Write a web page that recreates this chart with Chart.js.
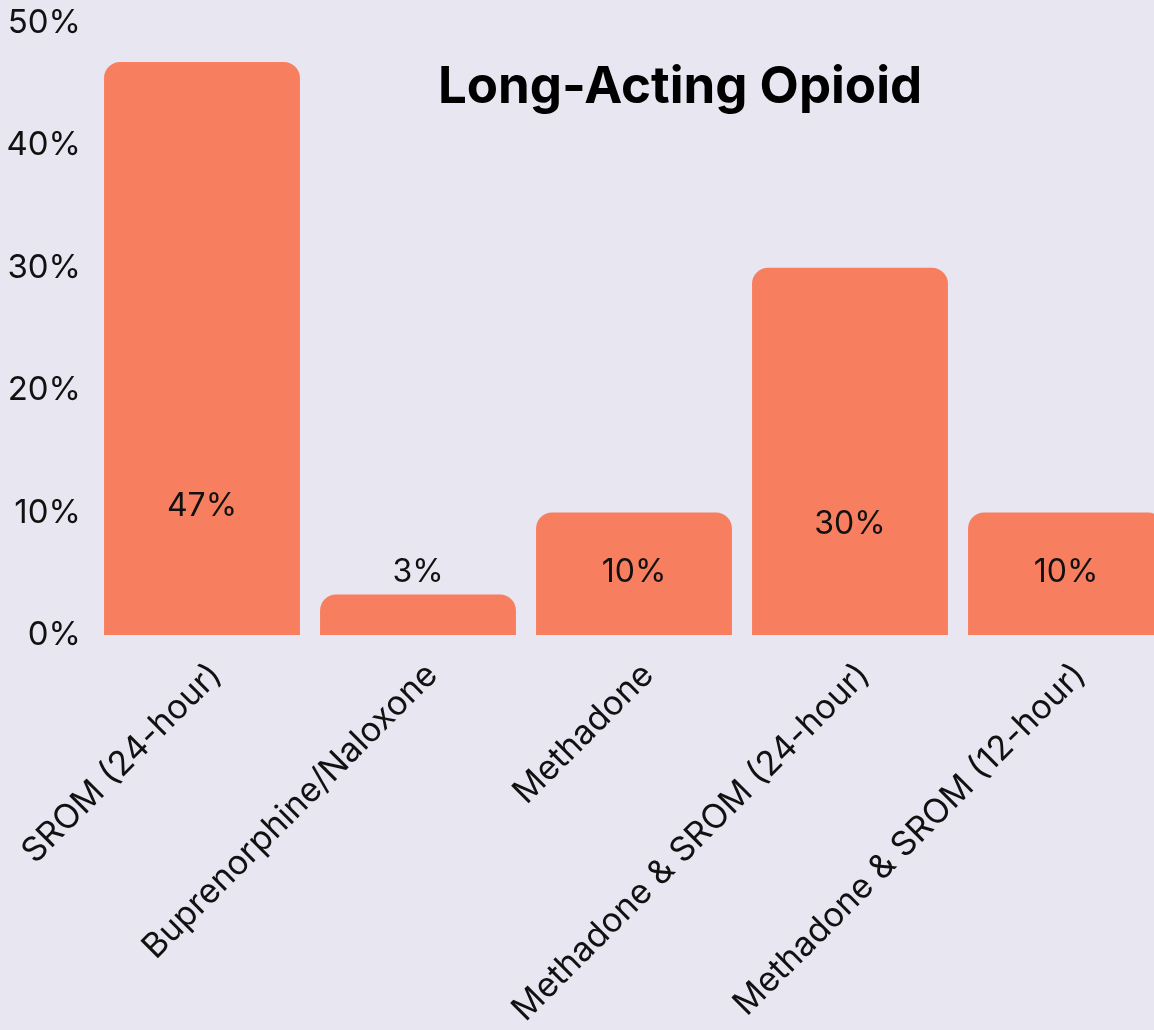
<!DOCTYPE html>
<html>
<head>
<meta charset="utf-8">
<script src="https://cdn.jsdelivr.net/npm/chart.js@4.4.1/dist/chart.umd.min.js"></script>
<style>
  html, body { margin: 0; padding: 0; background: #e8e6f1; overflow: hidden; }
  #wrap { width: 1154px; height: 1030px; overflow: hidden; }
</style>
</head>
<body>
<div id="wrap"><canvas id="chart" width="1174" height="1030"></canvas></div>
<script>
const categories = [
    'SROM (24-hour)',
    'Buprenorphine/Naloxone',
    'Methadone',
    'Methadone & SROM (24-hour)',
    'Methadone & SROM (12-hour)'
];
const shares = [46.8, 3.3, 10, 30, 10];
const shareLabels = ['47%', '3%', '10%', '30%', '10%'];
const chartTitle = 'Long-Acting Opioid';

const FONT = 'Inter, "Noto Sans", sans-serif';

// value labels sit at a fixed height inside (or just above) each bar
const valueLabels = {
    id: 'valueLabels',
    afterDatasetsDraw(chart, args, opts) {
        const ctx = chart.ctx;
        const yScale = chart.scales.y;
        const meta = chart.getDatasetMeta(0);
        ctx.save();
        ctx.font = '32px ' + FONT;
        ctx.fillStyle = '#111';
        ctx.textAlign = 'center';
        ctx.textBaseline = 'middle';
        meta.data.forEach(function (bar, i) {
            ctx.fillText(shareLabels[i], bar.x, yScale.getPixelForValue(opts.at[i]));
        });
        ctx.restore();
    }
};

const titleText = {
    id: 'titleText',
    afterDraw(chart) {
        const ctx = chart.ctx;
        ctx.save();
        ctx.font = 'bold 51px ' + FONT;
        ctx.fillStyle = '#000';
        ctx.textAlign = 'center';
        ctx.textBaseline = 'middle';
        ctx.fillText(chartTitle, 680, 88);
        ctx.restore();
    }
};

const ctx = document.getElementById('chart').getContext('2d');
new Chart(ctx, {
    type: 'bar',
    data: {
        labels: categories,
        datasets: [{
            data: shares,
            backgroundColor: '#f77f5f',
            borderRadius: 16,
            borderSkipped: 'start',
            barPercentage: 0.907,
            categoryPercentage: 1
        }]
    },
    options: {
        responsive: false,
        animation: false,
        layout: { padding: 0 },
        plugins: {
            legend: { display: false },
            tooltip: { enabled: false },
            valueLabels: { at: [10.5, 5.1, 5.1, 9.0, 5.1] }
        },
        scales: {
            x: {
                grid: { display: false, drawTicks: false },
                border: { display: false },
                ticks: {
                    color: '#111',
                    font: { family: FONT, size: 34 },
                    minRotation: 45,
                    maxRotation: 45,
                    padding: 20,
                    labelOffset: 14
                },
                afterFit: function (scale) {
                    scale.height = 395;
                    // let the long rotated labels spill left instead of squeezing the plot
                    scale.paddingLeft = 0;
                    scale.paddingRight = 0;
                }
            },
            y: {
                min: 0,
                max: 50,
                grid: { display: false, drawTicks: false },
                border: { display: false },
                ticks: {
                    stepSize: 10,
                    color: '#111',
                    padding: 13,
                    font: { family: FONT, size: 33, lineHeight: 0.6 },
                    callback: function (v) { return v + '%'; }
                },
                afterFit: function (scale) { scale.width = 94; }
            }
        }
    },
    plugins: [valueLabels, titleText]
});
</script>
</body>
</html>
